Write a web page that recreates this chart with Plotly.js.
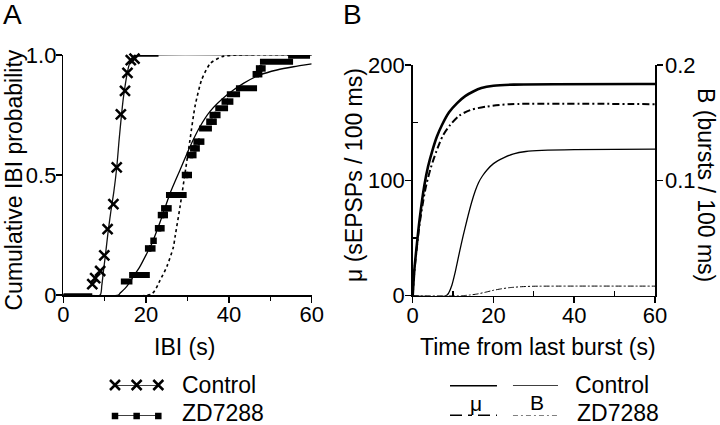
<!DOCTYPE html>
<html><head><meta charset="utf-8">
<script src="https://cdn.plot.ly/plotly-3.0.1.min.js"></script>
<style>html,body{margin:0;padding:0;background:#fff}#chart{width:720px;height:425px}</style>
</head><body><div id="chart"></div>
<script>
// ---------- Panel A data ----------
const ctrlX = [7.0, 7.7, 8.9, 9.9, 10.7, 12.1, 12.9, 13.9, 14.9, 15.5, 16.3, 17.2];
const ctrlY = [0.045, 0.07, 0.1, 0.165, 0.274, 0.379, 0.532, 0.753, 0.851, 0.926, 0.979, 0.985];
const ctrlBarStart = [0, 17];
const ctrlBarEnd = [7, 23];
const ctrlBarY = [0, 1.0];

const zdSqX = [20.5, 21.5, 21.8, 22.9, 23.7, 23.6, 24.5, 24.4, 25.4, 29.4, 30.3, 30.6, 31.4, 31.4, 32.2, 32.2, 33.3, 35.3, 36.3, 36.1, 37.2, 39.0, 40.3, 46.5, 47.3, 47.3, 48.1];
const zdSqY = [0.194, 0.194, 0.226, 0.278, 0.278, 0.333, 0.333, 0.361, 0.361, 0.5, 0.5, 0.583, 0.583, 0.611, 0.611, 0.639, 0.639, 0.722, 0.722, 0.75, 0.75, 0.806, 0.806, 0.92, 0.92, 0.944, 0.944];
const zdBarStart = [13.9, 15.9, 24.8, 32.8, 36.7, 39.5, 41.7, 47.5, 54.3];
const zdBarEnd   = [16.7, 20.9, 29.8, 35.9, 39.8, 42.7, 46.8, 55.5, 59.6];
const zdBarY     = [0.056, 0.083, 0.417, 0.694, 0.778, 0.836, 0.861, 0.972, 0.997];

const ctrlFitX = [0, 8.9, 9.3, 9.7, 10.2, 10.8, 11.5, 12.2, 12.9, 13.5, 14, 14.5, 15, 15.5, 16, 16.5, 17.2, 18, 60];
const ctrlFitY = [0, 0, 0.04, 0.1, 0.17, 0.26, 0.35, 0.43, 0.53, 0.65, 0.74, 0.82, 0.88, 0.93, 0.965, 0.985, 0.997, 1, 1];
const zdFitX = [0, 13.3, 13.7, 15.3, 16.9, 18.5, 20.2, 21.4, 23.4, 25.8, 28.2, 30.6, 33.0, 35.4, 39.5, 43.5, 47.5, 51.6, 55.6, 60];
const zdFitY = [0, 0, 0.007, 0.035, 0.076, 0.118, 0.174, 0.215, 0.305, 0.424, 0.521, 0.618, 0.701, 0.764, 0.833, 0.882, 0.917, 0.9375, 0.951, 0.963];
const dotFitX = [0, 21.4, 23.4, 25, 26.6, 27, 28.2, 29.4, 30.6, 31.8, 33.4, 35.5, 38.3, 41.9, 60];
const dotFitY = [0, 0.005, 0.0625, 0.118, 0.2, 0.243, 0.368, 0.507, 0.646, 0.785, 0.896, 0.965, 0.993, 1, 1];

// ---------- Panel B data ----------
const muCtrlT = [0, 0.4, 0.9, 1.7, 2.9, 3.8, 4.8, 6, 7.25, 9, 11, 13, 15, 17, 20, 25, 60];
const muCtrl  = [0, 22, 40, 66, 96, 112, 125, 138, 148, 159, 167, 173, 177, 180, 182, 183, 183.5];
const muZdT = [0, 0.4, 0.9, 1.7, 2.9, 3.5, 4.5, 5.85, 7.5, 9.3, 11.5, 14.3, 18.4, 24, 60];
const muZd  = [0, 21, 38, 62, 88, 98, 111, 125, 139, 148, 156, 161, 164, 166, 166];
const bCtrlT = [0, 8.3, 9, 9.7, 10.5, 11.6, 12.5, 13.4, 14.6, 15.5, 16.3, 17.3, 18.4, 20, 22.5, 25, 28, 32, 40, 60];
const bCtrl  = [0, 0, 0.003, 0.009, 0.02, 0.038, 0.052, 0.065, 0.081, 0.091, 0.098, 0.104, 0.109, 0.1145, 0.1195, 0.123, 0.125, 0.126, 0.1267, 0.127];
const bZdT = [0, 12, 14, 16, 18, 20, 22, 24, 27, 30, 60];
const bZd  = [0, 0, 0.0005, 0.0015, 0.003, 0.0047, 0.006, 0.007, 0.0078, 0.0082, 0.0083];

// ---------- Tick labels / text ----------
const aXTicks = [0, 20, 40, 60];
const aYTicks = [0, 0.5, 1];
const aYTickText = ['0', '0.5', '1.0'];
const bYTicks = [0, 100, 200];
const bY2Ticks = [0.1, 0.2];
const bY2TickText = ['0.1', '0.2'];
const seriesNames = ['Control', 'ZD7288'];

// legend key glyph positions (in key-local units)
const keyMarkX = [0, 0.5, 1];
const keyMuX = [0, 0.435];
const keyBX = [0.583, 1];

const FONT = "Arial, 'Liberation Sans', Helvetica, sans-serif";
const W = 720, H = 425;
const px = v => v / W, py = v => 1 - v / H;

function segs(s, e, y) {
  const X = [], Y = [];
  for (let i = 0; i < s.length; i++) { X.push(s[i], e[i], null); Y.push(y[i], y[i], null); }
  return {X, Y};
}
const cb = segs(ctrlBarStart, ctrlBarEnd, ctrlBarY);
const zb = segs(zdBarStart, zdBarEnd, zdBarY);

const xMark = {symbol: 'x-thin', size: 10, color: '#000', line: {width: 2.5, color: '#000'}};

const traces = [
  // Panel A fits
  {x: dotFitX, y: dotFitY, mode: 'lines', line: {color: '#000', width: 1.6, dash: 'dot', shape: 'spline', smoothing: 0.6}, xaxis: 'x', yaxis: 'y', cliponaxis: false},
  {x: ctrlFitX, y: ctrlFitY, mode: 'lines', line: {color: '#111', width: 1.3, shape: 'spline', smoothing: 0.6}, xaxis: 'x', yaxis: 'y', cliponaxis: false},
  {x: zdFitX, y: zdFitY, mode: 'lines', line: {color: '#000', width: 1.3, shape: 'spline', smoothing: 0.6}, xaxis: 'x', yaxis: 'y', cliponaxis: false},
  // Panel A data
  {x: cb.X, y: cb.Y, mode: 'lines', line: {color: '#000', width: 3.5}, xaxis: 'x', yaxis: 'y', cliponaxis: false},
  {x: ctrlX, y: ctrlY, mode: 'markers', marker: xMark, xaxis: 'x', yaxis: 'y', cliponaxis: false},
  {x: zb.X, y: zb.Y, mode: 'lines', line: {color: '#000', width: 6}, xaxis: 'x', yaxis: 'y', cliponaxis: false},
  {x: zdSqX, y: zdSqY, mode: 'markers', marker: {symbol: 'square', size: 6.5, color: '#000'}, xaxis: 'x', yaxis: 'y', cliponaxis: false},
  // Panel B
  {x: muCtrlT, y: muCtrl, mode: 'lines', line: {color: '#000', width: 2.6, shape: 'spline', smoothing: 0.8}, xaxis: 'x2', yaxis: 'y2', cliponaxis: false},
  {x: muZdT, y: muZd, mode: 'lines', line: {color: '#000', width: 2, dash: '7px,3px,2px,3px', shape: 'spline', smoothing: 0.8}, xaxis: 'x2', yaxis: 'y2', cliponaxis: false},
  {x: bCtrlT, y: bCtrl, mode: 'lines', line: {color: '#000', width: 1.3, shape: 'spline', smoothing: 0.8}, xaxis: 'x2', yaxis: 'y3', cliponaxis: false},
  {x: bZdT, y: bZd, mode: 'lines', line: {color: '#000', width: 1, dash: '6px,2px,2px,2px', shape: 'spline', smoothing: 0.6}, xaxis: 'x2', yaxis: 'y3', cliponaxis: false},
  // Legend keys A
  {x: keyMarkX, y: [1, 1, 1], mode: 'lines+markers', line: {color: '#000', width: 1.3}, marker: xMark, xaxis: 'x4', yaxis: 'y4', cliponaxis: false},
  {x: keyMarkX, y: [0, 0, 0], mode: 'lines+markers', line: {color: '#000', width: 1.5}, marker: {symbol: 'square', size: 6.5, color: '#000'}, xaxis: 'x4', yaxis: 'y4', cliponaxis: false},
  // Legend keys B
  {x: keyMuX, y: [1, 1], mode: 'lines', line: {color: '#000', width: 3}, xaxis: 'x5', yaxis: 'y5', cliponaxis: false},
  {x: keyBX, y: [1, 1], mode: 'lines', line: {color: '#000', width: 1.3}, xaxis: 'x5', yaxis: 'y5', cliponaxis: false},
  {x: keyMuX, y: [0, 0], mode: 'lines', line: {color: '#000', width: 3, dash: '12px,6px,4px,6px'}, xaxis: 'x5', yaxis: 'y5', cliponaxis: false},
  {x: keyBX, y: [0, 0], mode: 'lines', line: {color: '#000', width: 1, dash: '5px,3px,2px,3px'}, xaxis: 'x5', yaxis: 'y5', cliponaxis: false}
];

const tickFont = {family: FONT, size: 22, color: '#000'};
const axBase = {showgrid: false, zeroline: false, showline: true, linecolor: '#000', linewidth: 1.5, tickcolor: '#000', tickwidth: 1.5, tickfont: tickFont, fixedrange: true};

const yA0 = 295, yA1 = 55, yB0 = 295.7, yB1 = 65;
const keyDomY = [py(416), py(385)];

const layout = {
  width: W, height: H, margin: {l: 0, r: 0, t: 0, b: 0},
  paper_bgcolor: '#fff', plot_bgcolor: 'rgba(0,0,0,0)', showlegend: false,
  font: {family: FONT, color: '#000'},
  xaxis: Object.assign({}, axBase, {domain: [px(63.3), px(311.7)], range: [0, 60], anchor: 'y', tickvals: aXTicks, ticks: 'outside', ticklen: 6, ticklabelstandoff: -7,
    minor: {tickvals: [10, 30, 50], ticks: 'outside', ticklen: 4, tickcolor: '#000', tickwidth: 1.2}}),
  yaxis: Object.assign({}, axBase, {domain: [py(yA0), py(yA1)], range: [0, 1], anchor: 'x', tickvals: aYTicks, ticktext: aYTickText, ticks: 'outside', ticklen: 6, ticklabelstandoff: -5}),
  xaxis2: Object.assign({}, axBase, {domain: [px(412.7), px(655)], range: [0, 60], anchor: 'y2', tickvals: aXTicks, ticks: 'outside', ticklen: 6, ticklabelstandoff: -7,
    minor: {tickvals: [10, 30, 50], ticks: 'inside', ticklen: 5, tickcolor: '#000', tickwidth: 1.2}}),
  yaxis2: Object.assign({}, axBase, {domain: [py(yB0), py(yB1)], range: [0, 200], anchor: 'x2', tickvals: bYTicks, ticks: 'outside', ticklen: 6, ticklabelstandoff: -4,
    minor: {tickvals: [50, 150], ticks: 'inside', ticklen: 5, tickcolor: '#000', tickwidth: 1.2}}),
  yaxis3: Object.assign({}, axBase, {overlaying: 'y2', side: 'right', anchor: 'x2', range: [0, 0.2], tickvals: bY2Ticks, ticktext: bY2TickText, ticks: 'outside', ticklen: 6, ticklabelstandoff: -2}),
  xaxis4: {domain: [px(115), px(158.3)], range: [0, 1], anchor: 'y4', visible: false, fixedrange: true},
  yaxis4: {domain: keyDomY, range: [0, 1], anchor: 'x4', visible: false, fixedrange: true},
  xaxis5: {domain: [px(450), px(558)], range: [0, 1], anchor: 'y5', visible: false, fixedrange: true},
  yaxis5: {domain: keyDomY, range: [0, 1], anchor: 'x5', visible: false, fixedrange: true},
  annotations: [
    {text: 'A', x: px(13), y: py(15), xref: 'paper', yref: 'paper', showarrow: false, font: {family: FONT, size: 28}, xanchor: 'center', yanchor: 'middle'},
    {text: 'B', x: px(352), y: py(15), xref: 'paper', yref: 'paper', showarrow: false, font: {family: FONT, size: 28}, xanchor: 'center', yanchor: 'middle'},
    {text: 'Cumulative IBI probability', x: px(13.5), y: py(180), xref: 'paper', yref: 'paper', showarrow: false, textangle: -90, font: {family: FONT, size: 23}, xanchor: 'center', yanchor: 'middle'},
    {text: 'IBI (s)', x: px(184), y: py(347), xref: 'paper', yref: 'paper', showarrow: false, font: {family: FONT, size: 23}, xanchor: 'center', yanchor: 'middle'},
    {text: 'μ (sEPSPs / 100 ms)', x: px(354), y: py(175), xref: 'paper', yref: 'paper', showarrow: false, textangle: -90, font: {family: FONT, size: 23}, xanchor: 'center', yanchor: 'middle'},
    {text: 'B (bursts / 100 ms)', x: px(706), y: py(185), xref: 'paper', yref: 'paper', showarrow: false, textangle: 90, font: {family: FONT, size: 23}, xanchor: 'center', yanchor: 'middle'},
    {text: 'Time from last burst (s)', x: px(538), y: py(347), xref: 'paper', yref: 'paper', showarrow: false, font: {family: FONT, size: 23}, xanchor: 'center', yanchor: 'middle'},
    {text: seriesNames[0], x: px(180), y: py(385), xref: 'paper', yref: 'paper', showarrow: false, font: {family: FONT, size: 23}, xanchor: 'left', yanchor: 'middle'},
    {text: seriesNames[1], x: px(180), y: py(413), xref: 'paper', yref: 'paper', showarrow: false, font: {family: FONT, size: 23}, xanchor: 'left', yanchor: 'middle'},
    {text: 'μ', x: px(476), y: py(403), xref: 'paper', yref: 'paper', showarrow: false, font: {family: FONT, size: 21}, xanchor: 'center', yanchor: 'middle'},
    {text: 'B', x: px(537), y: py(402), xref: 'paper', yref: 'paper', showarrow: false, font: {family: FONT, size: 21}, xanchor: 'center', yanchor: 'middle'},
    {text: seriesNames[0], x: px(573), y: py(385), xref: 'paper', yref: 'paper', showarrow: false, font: {family: FONT, size: 23}, xanchor: 'left', yanchor: 'middle'},
    {text: seriesNames[1], x: px(575), y: py(413), xref: 'paper', yref: 'paper', showarrow: false, font: {family: FONT, size: 23}, xanchor: 'left', yanchor: 'middle'}
  ]
};

Plotly.newPlot('chart', traces, layout, {staticPlot: true, displayModeBar: false});
</script>
</body></html>
